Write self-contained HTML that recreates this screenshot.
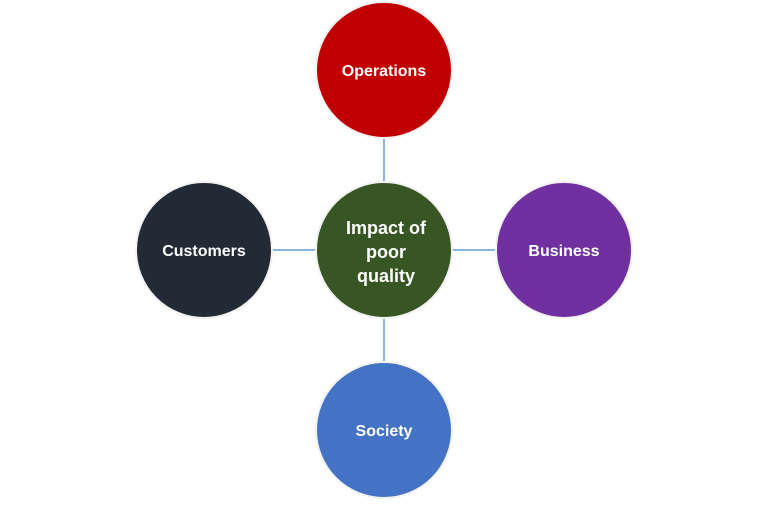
<!DOCTYPE html>
<html><head><style>body{margin:0;background:#fff}</style></head><body>
<svg width="768" height="501" xmlns="http://www.w3.org/2000/svg" font-family="'Liberation Sans',sans-serif" font-weight="bold" fill="#fff" text-anchor="middle">
<g stroke="#8db3e2" stroke-width="2">
<line x1="384" y1="138" x2="384" y2="182"/>
<line x1="384" y1="318" x2="384" y2="362"/>
<line x1="272" y1="250" x2="316" y2="250"/>
<line x1="452" y1="250" x2="496" y2="250"/>
</g>
<g stroke="#f2f2f2" stroke-width="2">
<circle cx="384" cy="70" r="68" fill="#c00000"/>
<circle cx="204" cy="250" r="68" fill="#222a35"/>
<circle cx="564" cy="250" r="68" fill="#7030a0"/>
<circle cx="384" cy="430" r="68" fill="#4472c4"/>
<circle cx="384" cy="250" r="68" fill="#375623"/>
</g>
<g font-size="16">
<text x="384" y="76" fill="#fff">Operations</text>
<text x="204" y="256" fill="#fff">Customers</text>
<text x="564" y="256" fill="#fff">Business</text>
<text x="384" y="436" fill="#fff">Society</text>
</g>
<g font-size="18">
<text x="386" y="234" fill="#fff">Impact of</text>
<text x="386" y="258" fill="#fff">poor</text>
<text x="386" y="282" fill="#fff">quality</text>
</g>
</svg>
</body></html>
